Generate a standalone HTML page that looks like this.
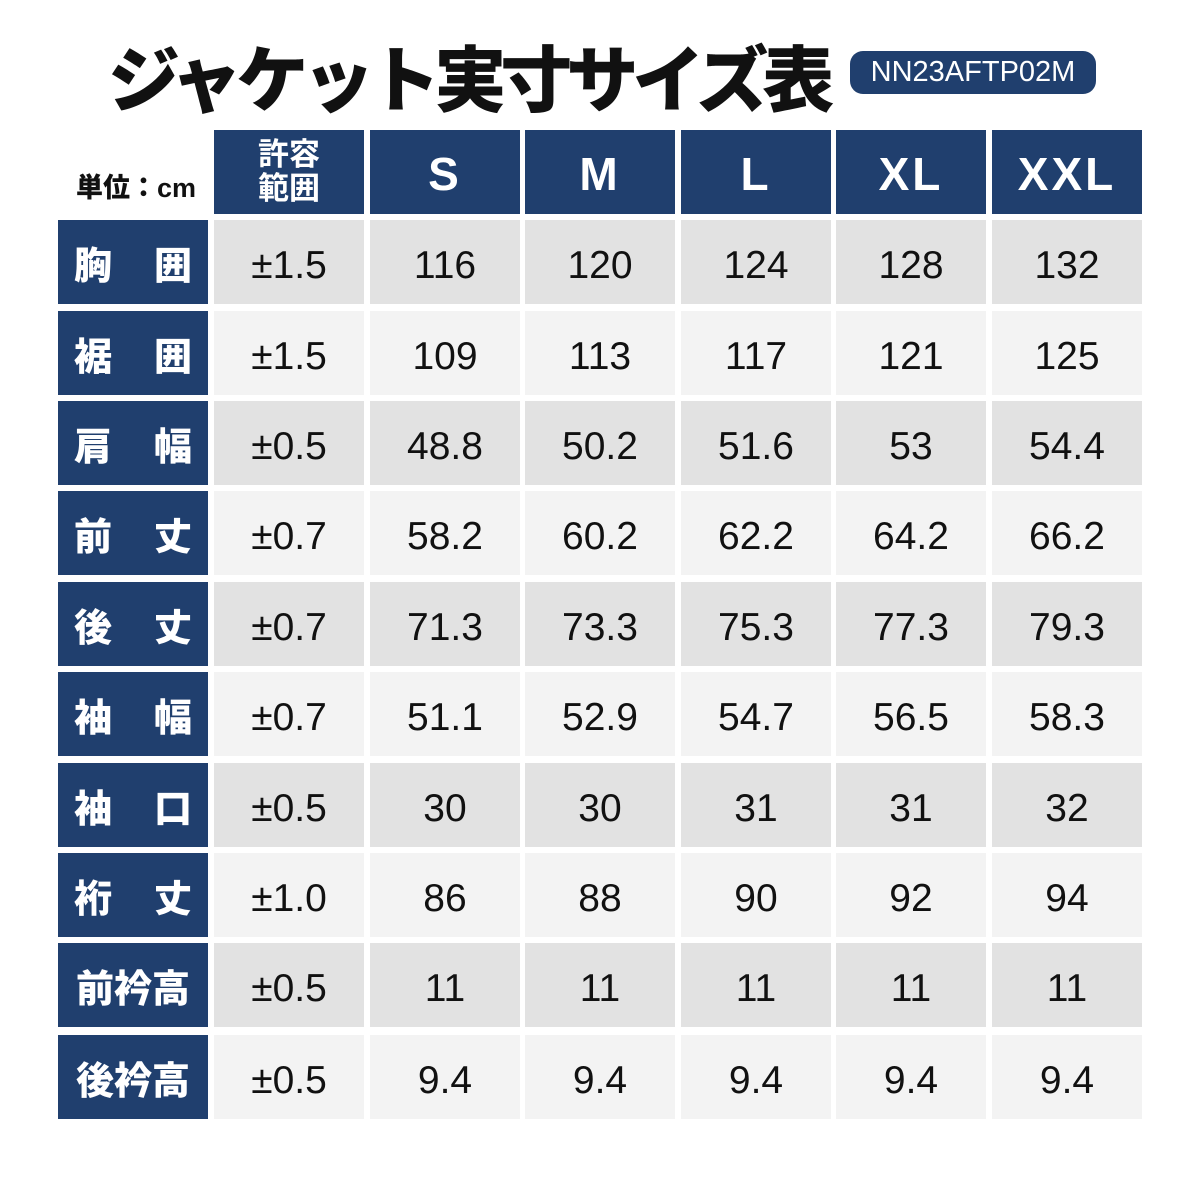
<!DOCTYPE html>
<html><head><meta charset="utf-8"><style>
body{margin:0;width:1200px;height:1200px;background:#fff;position:relative;overflow:hidden;font-family:"Liberation Sans","Noto Sans CJK JP",sans-serif}
.a{position:absolute;display:flex;align-items:center;justify-content:center;box-sizing:border-box}
.n{background:#203f6e;color:#fff;font-weight:bold}
.t{position:absolute;left:108px;top:22px;font-size:72px;font-weight:900;color:#111;letter-spacing:-6px;white-space:nowrap}
</style></head><body>
<div class="t">ジャケット実寸サイズ表</div>
<div class="a" style="left:850px;top:51px;width:246px;height:43px;background:#203f6e;border-radius:13px;color:#fff;font-size:29px">NN23AFTP02M</div>
<div class="a" style="left:76px;top:165px;width:140px;height:40px;justify-content:flex-start;font-size:27px;font-weight:900;color:#111">単位：cm</div>
<div id="g"></div>
<script>
const cols=[214,370,525,681,836,992],w=150;
const hdr=['許容<br>範囲','S','M','L','XL','XXL'];
let h='';
hdr.forEach((t,i)=>{h+=`<div class="a n" style="left:${cols[i]}px;top:130px;width:${w}px;height:84px;font-size:${i?46:31}px;line-height:${i?1:1.1};${i?'letter-spacing:3px;padding-top:4px':''}">${t}</div>`});
const tops=[220,311,401,491,582,672,763,853,943,1035];
const labels=[['胸','囲'],['裾','囲'],['肩','幅'],['前','丈'],['後','丈'],['袖','幅'],['袖','口'],['裄','丈'],'前衿高','後衿高'];
const data=[['±1.5',116,120,124,128,132],['±1.5',109,113,117,121,125],['±0.5','48.8','50.2','51.6','53','54.4'],['±0.7','58.2','60.2','62.2','64.2','66.2'],['±0.7','71.3','73.3','75.3','77.3','79.3'],['±0.7','51.1','52.9','54.7','56.5','58.3'],['±0.5',30,30,31,31,32],['±1.0',86,88,90,92,94],['±0.5',11,11,11,11,11],['±0.5','9.4','9.4','9.4','9.4','9.4']];
tops.forEach((y,r)=>{
 const L=labels[r];
 const lt=Array.isArray(L)?`<span style="position:absolute;left:16px">${L[0]}</span><span style="position:absolute;right:16px">${L[1]}</span>`:L;
 h+=`<div class="a n" style="left:58px;top:${y}px;width:150px;height:84px;font-size:38px;font-weight:900">${lt}</div>`;
 const bg=r%2?'#f3f3f3':'#e2e2e2';
 data[r].forEach((v,i)=>{h+=`<div class="a" style="left:${cols[i]}px;top:${y}px;width:${w}px;height:84px;background:${bg};font-size:39px;color:#111;padding-top:7px">${v}</div>`});
});
document.getElementById('g').innerHTML=h;
</script>
</body></html>
